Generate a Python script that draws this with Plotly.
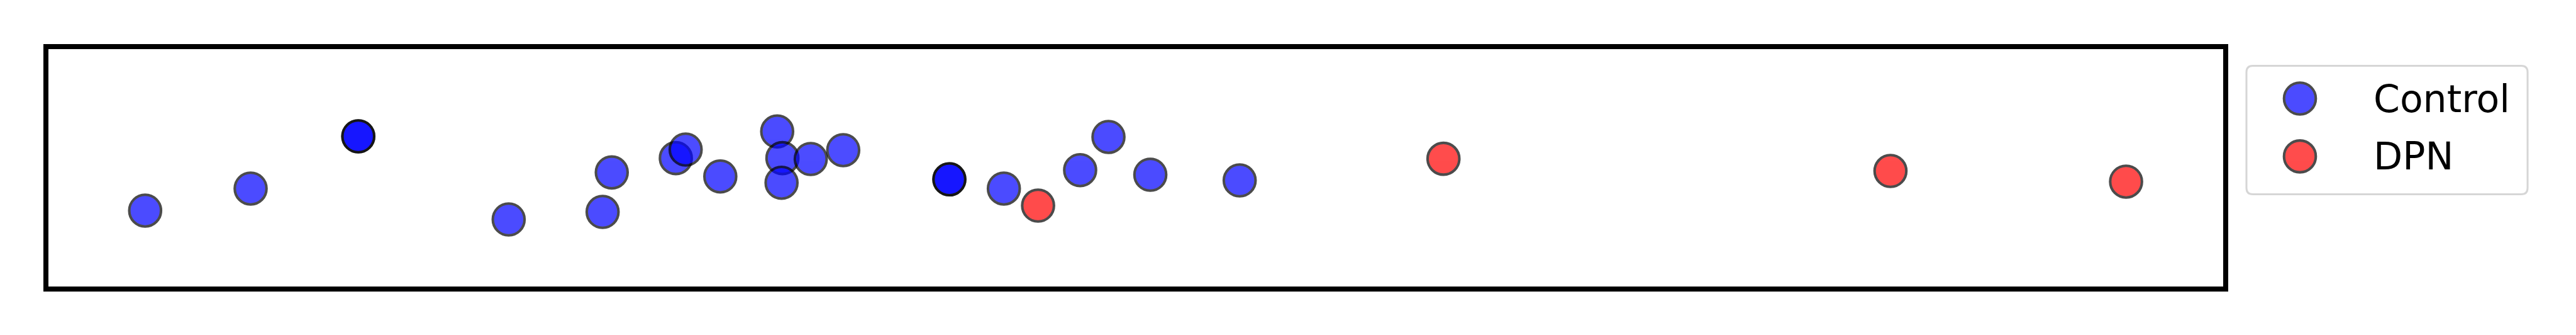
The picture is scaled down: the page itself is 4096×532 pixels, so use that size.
import plotly.graph_objects as go

# ---- data (arbitrary units) ----
control_x = [4.54, 9.38, 14.32, 14.32, 21.22, 25.53, 25.95, 28.89, 29.34, 30.93,
             33.54, 33.78, 33.74, 35.08, 36.57, 41.44, 41.44, 43.94, 47.44, 48.74,
             50.66, 54.76]
control_y = [-0.355, -0.173, 0.258, 0.258, -0.428, -0.366, -0.040, 0.078, 0.149, -0.073,
             0.298, 0.078, -0.125, 0.071, 0.144, -0.097, -0.097, -0.173, -0.021, 0.253,
             -0.059, -0.106]
dpn_x = [45.51, 64.11, 84.62, 95.43]
dpn_y = [-0.314, 0.073, -0.028, -0.116]
group_names = ["Control", "DPN"]
group_colors = ["blue", "red"]

# the page body adds an 8px margin, so the figure is placed at (8, 8)
OFF = 8
W, H = 4096 - OFF, 532 - 2 * OFF


def px_x(p):
    return (p - OFF) / W


def px_y(p):
    return 1 - (p - OFF) / H


# plot area (inner) in window pixels
L, R, T, B = 77.2, 3535.2, 77.5, 454.8
LW = 7.5
MS = 50.5
MLW = 4.1

fig = go.Figure()

for xs, ys, name, col in [(control_x, control_y, group_names[0], group_colors[0]),
                          (dpn_x, dpn_y, group_names[1], group_colors[1])]:
    fig.add_trace(go.Scatter(
        x=xs, y=ys, mode="markers", name=name, showlegend=False,
        marker=dict(size=MS, color=col, opacity=0.7,
                    line=dict(color="black", width=MLW)),
        xaxis="x", yaxis="y"))

# custom legend (large symbols like the reference)
LEG_L, LEG_R, LEG_T, LEG_B = 3572, 4019, 104.6, 308.5
row_px = [156.5, 248.4]
sym_px = 3657
for i, (name, col) in enumerate(zip(group_names, group_colors)):
    fig.add_trace(go.Scatter(
        x=[(sym_px - LEG_L) / (LEG_R - LEG_L)],
        y=[(LEG_B - row_px[i]) / (LEG_B - LEG_T)],
        mode="markers", showlegend=False, hoverinfo="skip",
        marker=dict(size=MS, color=col, opacity=0.7,
                    line=dict(color="black", width=MLW)),
        xaxis="x2", yaxis="y2"))
    fig.add_annotation(x=px_x(3772), y=px_y(row_px[i]), xref="paper", yref="paper",
                       text=name, showarrow=False, xanchor="left", yanchor="middle",
                       font=dict(family="DejaVu Sans", size=60, color="black"))

# rounded legend frame
r = 10
rx, ry = r / W, r / H
x0, x1 = px_x(LEG_L), px_x(LEG_R)
y0, y1 = px_y(LEG_B), px_y(LEG_T)
path = (f"M {x0+rx},{y1} L {x1-rx},{y1} Q {x1},{y1} {x1},{y1-ry} "
        f"L {x1},{y0+ry} Q {x1},{y0} {x1-rx},{y0} L {x0+rx},{y0} "
        f"Q {x0},{y0} {x0},{y0+ry} L {x0},{y1-ry} Q {x0},{y1} {x0+rx},{y1} Z")
fig.add_shape(type="path", path=path, xref="paper", yref="paper",
              line=dict(color="#d6d6d6", width=3), fillcolor="rgba(255,255,255,0.8)",
              layer="below")

hx = 4.12 / 38.083
hy = 4.12 / 211.5
fig.update_layout(
    width=W, height=H,
    margin=dict(l=0, r=0, t=0, b=0),
    paper_bgcolor="white", plot_bgcolor="white",
    showlegend=False,
    xaxis=dict(domain=[px_x(L), px_x(R)], range=[hx, 100 - hx],
               showgrid=False, zeroline=False, showticklabels=False, ticks="",
               showline=True, mirror=True, linecolor="black", linewidth=LW),
    yaxis=dict(domain=[px_y(B), px_y(T)], range=[-1 + hy, 1 - hy],
               showgrid=False, zeroline=False, showticklabels=False, ticks="",
               showline=True, mirror=True, linecolor="black", linewidth=LW),
    xaxis2=dict(domain=[px_x(LEG_L), px_x(LEG_R)], range=[0, 1], visible=False,
                anchor="y2"),
    yaxis2=dict(domain=[px_y(LEG_B), px_y(LEG_T)], range=[0, 1], visible=False,
                anchor="x2"),
)

fig.write_html("out.html")
